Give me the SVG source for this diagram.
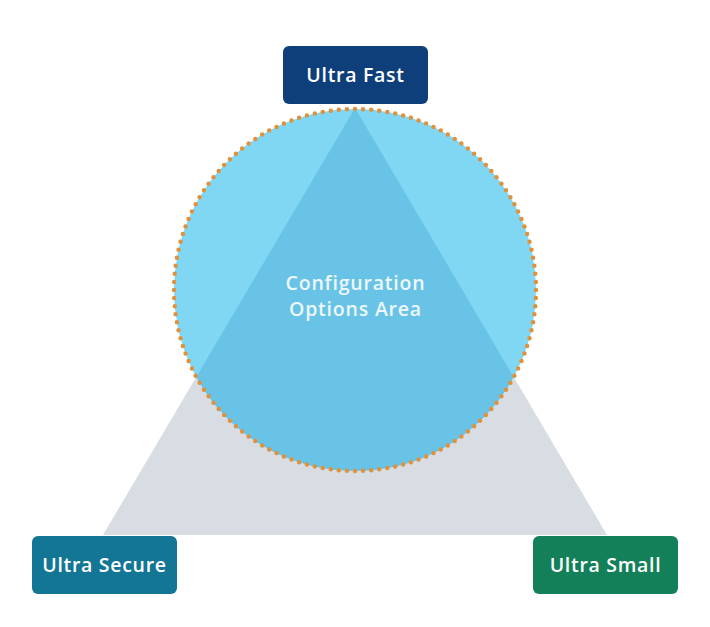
<svg xmlns="http://www.w3.org/2000/svg" width="710" height="627" viewBox="0 0 710 627">
<style>
.lbl{font-family:"Open Sans","Liberation Sans",sans-serif;font-size:19.5px;font-weight:600;letter-spacing:0.7px;fill:#ffffff;text-anchor:middle}
.ctr{font-family:"Open Sans","Liberation Sans",sans-serif;font-size:19.5px;font-weight:600;letter-spacing:0.8px;fill:#eef8fc;text-anchor:middle}
</style>
<defs>
<clipPath id="cc"><circle cx="355" cy="290" r="181"/></clipPath>
</defs>
<rect width="710" height="627" fill="#ffffff"/>
<g id="area">
<polygon points="355,108 103,535 607,535" fill="#d8dde3"/>
<circle cx="355" cy="290" r="181" fill="#80d7f3"/>
<polygon points="355,108 103,535 607,535" fill="#68c3e6" clip-path="url(#cc)"/>
<circle cx="355" cy="290" r="181" fill="none" stroke="#df913c" stroke-width="4.5" stroke-linecap="round" stroke-dasharray="0 8.12"/>
<text class="ctr" x="355.5" y="290">Configuration</text>
<text class="ctr" x="355.5" y="316">Options Area</text>
</g>
<g id="fast">
<rect x="283" y="46" width="145" height="58" rx="6" fill="#0f3f7b"/>
<text class="lbl" x="355.5" y="82">Ultra Fast</text>
</g>
<g id="secure">
<rect x="32" y="536" width="145" height="58" rx="6" fill="#137695"/>
<text class="lbl" x="104.5" y="572">Ultra Secure</text>
</g>
<g id="small">
<rect x="533" y="536" width="145" height="58" rx="6" fill="#13805a"/>
<text class="lbl" x="605.5" y="572">Ultra Small</text>
</g>
<g id="connectors"></g>
</svg>
